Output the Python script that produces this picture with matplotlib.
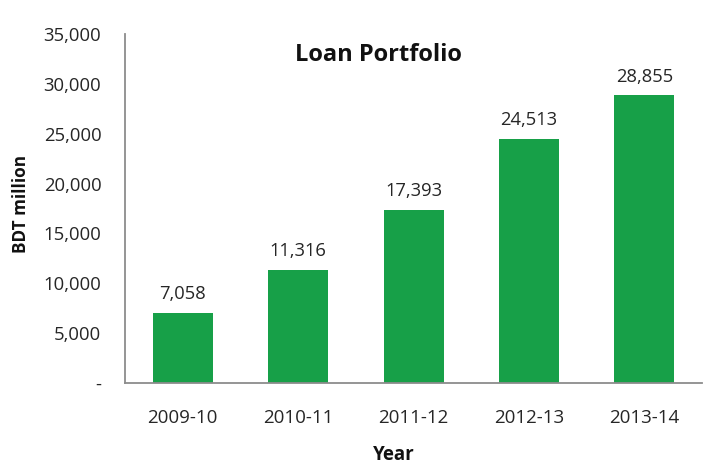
import matplotlib
matplotlib.use("Agg")
import matplotlib.pyplot as plt
from matplotlib.ticker import FuncFormatter

categories = ["2009-10", "2010-11", "2011-12", "2012-13", "2013-14"]
values = [7058, 11316, 17393, 24513, 28855]
yticks = [0, 5000, 10000, 15000, 20000, 25000, 30000, 35000]

plt.rcParams['font.family'] = ['Open Sans', 'DejaVu Sans']
txt = '#262626'

fig = plt.figure(figsize=(7.19, 4.68), dpi=100)
ax = fig.add_axes([0.1739, 0.1816, 0.8025, 0.7458])
x = list(range(len(categories)))
bars = ax.bar(x, values, width=0.52, color='#17a048')
ax.set_xlim(-0.5, 4.5)
ax.set_ylim(0, 35000)
ax.set_yticks(yticks)
ax.yaxis.set_major_formatter(FuncFormatter(lambda v, p: '-' if v == 0 else f'{int(v):,}'))
ax.set_xticks(x)
ax.set_xticklabels(categories)
ax.tick_params(axis='y', length=0, labelsize=13.3, colors=txt, pad=17)
ax.tick_params(axis='x', length=0, labelsize=13.5, colors=txt, pad=19)
for s in ['top', 'right']:
    ax.spines[s].set_visible(False)
for s in ['left', 'bottom']:
    ax.spines[s].set_color('#8c8c8c')
    ax.spines[s].set_linewidth(1.3)
for xi, v in zip(x, values):
    ax.annotate(f'{v:,}', (xi, v), xytext=(0, 7), textcoords='offset points',
                ha='center', va='bottom', fontsize=13.2, color=txt)
ax.text(0.44, 0.94, 'Loan Portfolio', transform=ax.transAxes, ha='center', va='center',
        fontsize=17, fontweight='bold', color='#111111')
ax.set_xlabel('Year', fontsize=13.5, fontweight='bold', color='#111111', va='center')
ax.xaxis.set_label_coords(0.465, -0.205)
ax.set_ylabel('BDT million', fontsize=12.3, fontweight='bold', color='#111111', va='center')
ax.yaxis.set_label_coords(-0.18, 0.513)
fig.savefig('out.png', dpi=100)
